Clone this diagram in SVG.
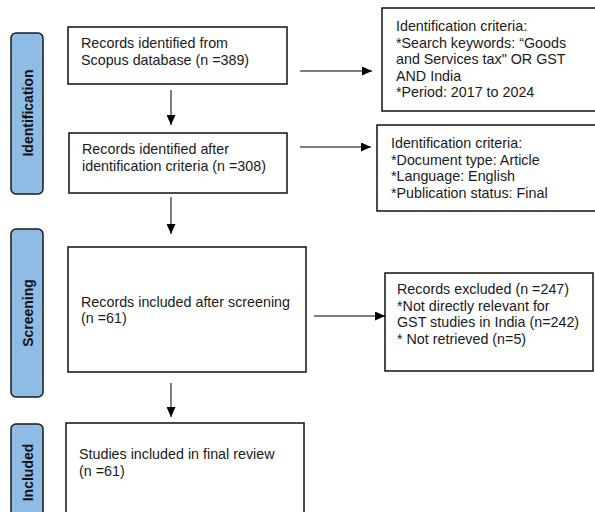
<svg xmlns="http://www.w3.org/2000/svg" width="595" height="512" viewBox="0 0 595 512">
<defs>
<style>
.box{fill:#fff;stroke:#111;stroke-width:1.5}
.side{fill:#8fbce4;stroke:#1a1a1a;stroke-width:1.5}
.t{font-family:"Liberation Sans",Arial,sans-serif;font-size:14.3px;fill:#1a1a1a}
.st{font-family:"Liberation Sans",Arial,sans-serif;font-size:14px;font-weight:bold;fill:#111;text-anchor:middle}
.c{stroke:#000;stroke-width:1;fill:none;marker-end:url(#ah)}
</style>
<marker id="ah" markerWidth="10" markerHeight="9" refX="10" refY="4.5" orient="auto" markerUnits="userSpaceOnUse">
<path d="M0,0 L10,4.5 L0,9 Z" fill="#000"/>
</marker>
</defs>
<rect width="595" height="512" fill="#fff"/>

<g id="stage-identification">
<rect class="side" x="11" y="33" width="32" height="161" rx="5"/>
<text class="st" transform="translate(33,113) rotate(-90)">Identification</text>
</g>
<g id="stage-screening">
<rect class="side" x="11" y="229" width="32" height="168" rx="5"/>
<text class="st" transform="translate(33,313) rotate(-90)">Screening</text>
</g>
<g id="stage-included">
<rect class="side" x="11" y="424" width="32" height="100" rx="5"/>
<text class="st" transform="translate(33,472.5) rotate(-90)">Included</text>
</g>

<g id="n-scopus">
<rect class="box" x="68" y="27" width="219" height="57"/>
<text class="t" x="81" y="48">Records identified from</text>
<text class="t" x="81" y="65">Scopus database (n =389)</text>
</g>
<g id="n-after-id">
<rect class="box" x="69" y="133" width="218" height="60"/>
<text class="t" x="82" y="154">Records identified after</text>
<text class="t" x="82" y="171">identification criteria (n =308)</text>
</g>
<g id="n-criteria1">
<rect class="box" x="382" y="8" width="215" height="103"/>
<text class="t" x="396" y="31">Identification criteria:</text>
<text class="t" x="396" y="47.5">*Search keywords: “Goods</text>
<text class="t" x="396" y="64">and Services tax" OR GST</text>
<text class="t" x="396" y="80.5">AND India</text>
<text class="t" x="396" y="97">*Period: 2017 to 2024</text>
</g>
<g id="n-criteria2">
<rect class="box" x="377" y="125" width="220" height="86"/>
<text class="t" x="391" y="148">Identification criteria:</text>
<text class="t" x="391" y="164.5">*Document type: Article</text>
<text class="t" x="391" y="181">*Language: English</text>
<text class="t" x="391" y="197.5">*Publication status: Final</text>
</g>
<g id="n-screening">
<rect class="box" x="68" y="247" width="238" height="125"/>
<text class="t" x="81" y="307">Records included after screening</text>
<text class="t" x="81" y="323">(n =61)</text>
</g>
<g id="n-excluded">
<rect class="box" x="385" y="273" width="208" height="98"/>
<text class="t" x="397" y="294">Records excluded (n =247)</text>
<text class="t" x="397" y="310.5">*Not directly relevant for</text>
<text class="t" x="397" y="327">GST studies in India (n=242)</text>
<text class="t" x="397" y="343.5">* Not retrieved (n=5)</text>
</g>
<g id="n-final">
<rect class="box" x="66" y="423" width="238" height="100"/>
<text class="t" x="79" y="459">Studies included in final review</text>
<text class="t" x="79" y="475.5">(n =61)</text>
</g>

<g id="connectors">
<line class="c" x1="171" y1="90" x2="171" y2="125"/>
<line class="c" x1="171" y1="197" x2="171" y2="234"/>
<line class="c" x1="171" y1="383" x2="171" y2="417"/>
<line class="c" x1="300" y1="71" x2="372" y2="71"/>
<line class="c" x1="300" y1="147" x2="371" y2="147"/>
<line class="c" x1="314" y1="316" x2="385" y2="316"/>
</g>
</svg>
